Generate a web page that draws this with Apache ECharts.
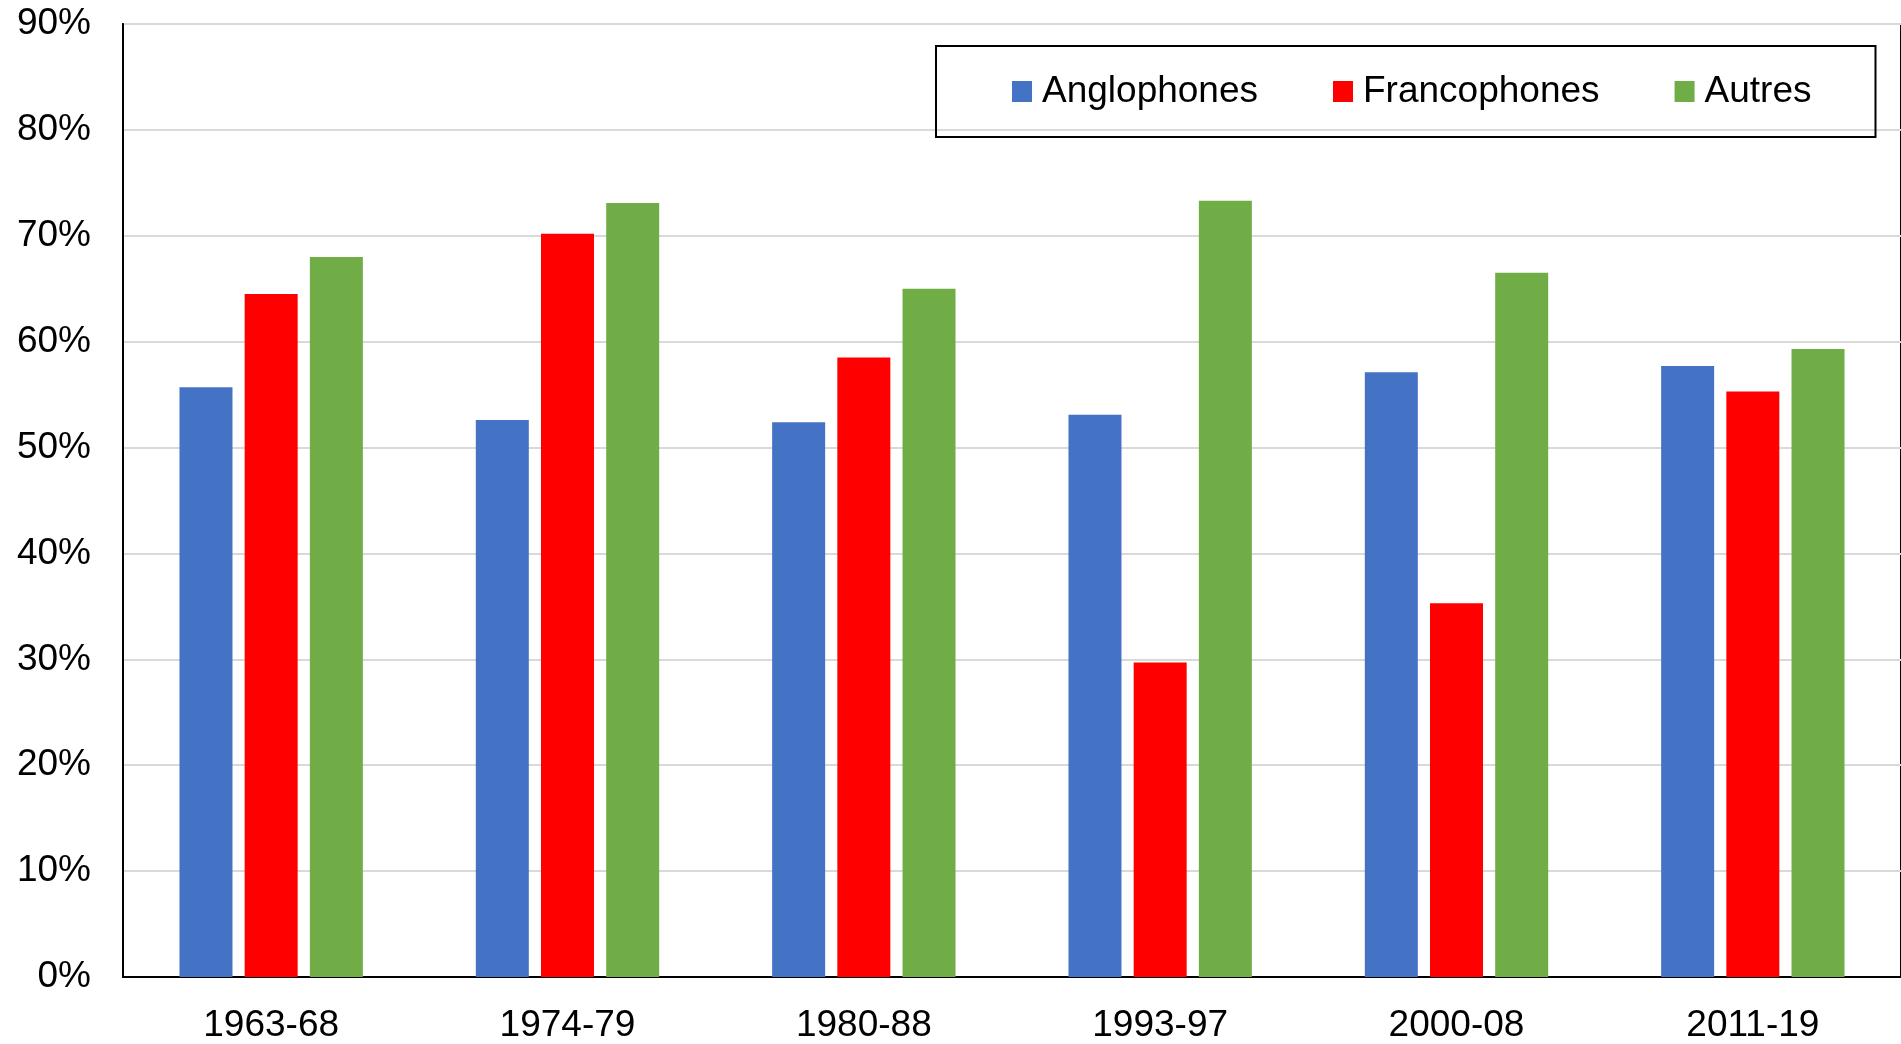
<!DOCTYPE html>
<html lang="fr">
<head>
  <meta charset="UTF-8">
  <title>Anglophones, Francophones, Autres</title>
  <style>
    html, body { margin: 0; padding: 0; background: #fff; }
    #chart { width: 1901px; height: 1044px; }
  </style>
</head>
<body>
<div id="chart"></div>
<script src="https://cdn.jsdelivr.net/npm/echarts@6/dist/echarts.min.js"></script>
<script>
  // données (en %)
  const periods = ['1963-68', '1974-79', '1980-88', '1993-97', '2000-08', '2011-19'];
  const anglophones = [55.7, 52.6, 52.4, 53.1, 57.1, 57.7];
  const francophones = [64.5, 70.2, 58.5, 29.7, 35.3, 55.3];
  const autres = [68.0, 73.1, 65.0, 73.3, 66.5, 59.3];
  const yTicks = { min: 0, max: 90, step: 10 };

  const font = '"Liberation Sans", Arial, sans-serif';

  const chart = echarts.init(document.getElementById('chart'));

  function bar(name, data, color) {
    return {
      name: name,
      type: 'bar',
      data: data,
      barWidth: 53,
      barGap: '23%',
      itemStyle: { color: color }
    };
  }

  chart.setOption({
    animation: false,
    textStyle: { fontFamily: font },
    legend: {
      left: 936,
      top: 46,
      orient: 'horizontal',
      itemWidth: 20,
      itemHeight: 21,
      itemGap: 75,
      icon: 'rect',
      borderColor: '#000',
      borderWidth: 2,
      padding: [27, 64, 27, 76],
      textStyle: { fontSize: 37, color: '#000', fontFamily: font, padding: [0, 0, 0, 5] },
      data: ['Anglophones', 'Francophones', 'Autres']
    },
    grid: {
      left: 123,
      right: -6,
      top: 24,
      bottom: 64,
      show: true,
      borderColor: '#000',
      borderWidth: 2,
      backgroundColor: 'transparent'
    },
    xAxis: {
      type: 'category',
      data: periods,
      axisTick: { show: false },
      axisLine: { lineStyle: { color: '#000', width: 2 } },
      axisLabel: { fontSize: 37, color: '#000', margin: 30, fontFamily: font }
    },
    yAxis: {
      type: 'value',
      min: yTicks.min,
      max: yTicks.max,
      interval: yTicks.step,
      axisLine: { show: true, lineStyle: { color: '#000', width: 2 } },
      axisTick: { show: false },
      axisLabel: { fontSize: 37, color: '#000', margin: 32, formatter: '{value}%', fontFamily: font },
      splitLine: { lineStyle: { color: '#d9d9d9', width: 2 } }
    },
    series: [
      bar('Anglophones', anglophones, '#4472C4'),
      bar('Francophones', francophones, '#FF0000'),
      bar('Autres', autres, '#70AD47')
    ]
  });
</script>
</body>
</html>
